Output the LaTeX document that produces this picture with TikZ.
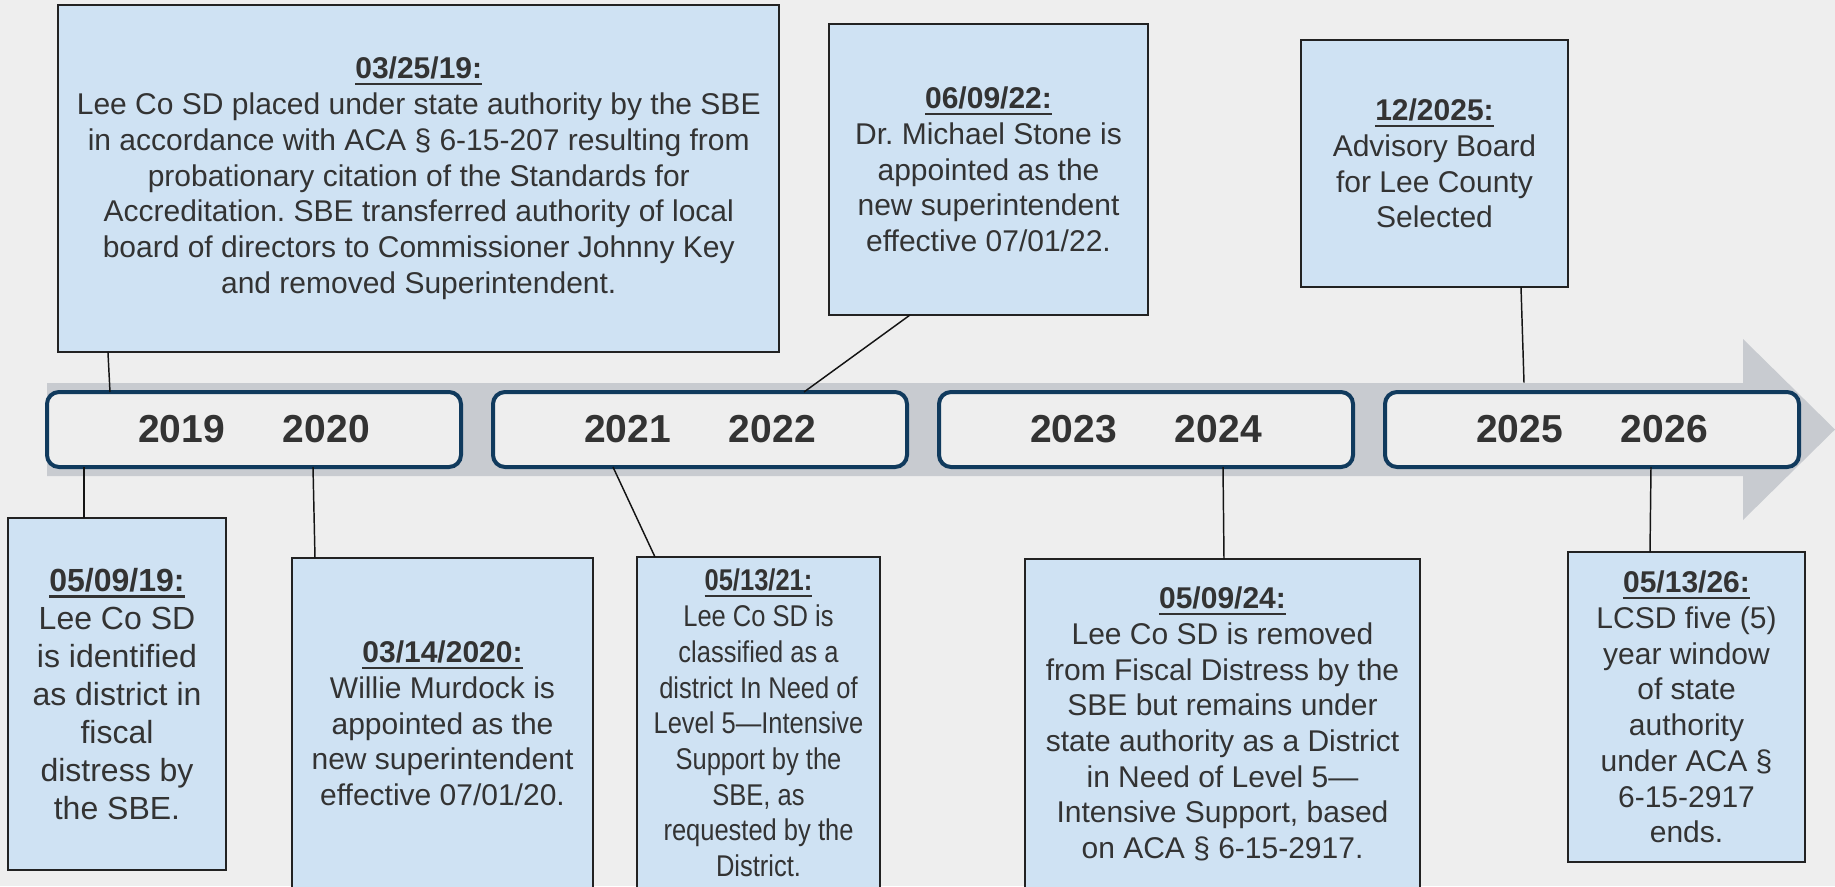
\documentclass[tikz,border=0pt]{standalone}
\usepackage{fontspec}
\setmainfont{Liberation Sans}
\newfontfamily\narrowsans[FakeStretch=0.85]{Liberation Sans}
\usepackage{tikz}
\usetikzlibrary{positioning}
\frenchspacing

\definecolor{pagegray}{RGB}{238,238,238}
\definecolor{bandgray}{RGB}{200,203,208}
\definecolor{notefill}{RGB}{207,226,243}
\definecolor{yearnavy}{RGB}{16,58,93}
\definecolor{inkgray}{RGB}{51,51,51}

% bold date with a heavy underline
\newsavebox{\datebox}
\newcommand{\datehead}[1]{\sbox{\datebox}{\bfseries #1}\rlap{\rule[-5pt]{\wd\datebox}{2pt}}\usebox{\datebox}}

\begin{document}
\begin{tikzpicture}[x=0.75pt,y=0.75pt,yscale=-1,xscale=1,
    note/.style={draw={rgb, 255:red, 34; green, 34; blue, 34},line width=1.5pt,fill=notefill,
        text=inkgray,align=center,inner sep=0pt,outer sep=0pt,
        font=\fontsize{22.5}{26.8}\selectfont},
    yearbox/.style={draw=yearnavy,line width=3pt,rounded corners=9pt,fill=pagegray,
        minimum width=310.5pt,minimum height=56.25pt,inner sep=0pt,outer sep=0pt,
        text=inkgray,font=\fontsize{29.25}{35}\selectfont\bfseries},
    leader/.style={draw={rgb, 255:red, 20; green, 20; blue, 20},line width=1.1pt}]
        \clip (0,0) rectangle (1835,886);
        \fill[pagegray] (0,0) rectangle (1835,886);

        %Shape: Polygon (timeline arrow)
        \fill[bandgray] (47,383) -- (1743,383) -- (1743,339) -- (1835,429.5) -- (1743,520) -- (1743,476) -- (47,476) -- cycle ;

        % Year boxes
        \node[yearbox] (yr1) at (254,429.5) {2019\hspace{43.5pt}2020};
        \node[yearbox,right=24pt of yr1] (yr2) {2021\hspace{43.5pt}2022};
        \node[yearbox,right=24pt of yr2] (yr3) {2023\hspace{43.5pt}2024};
        \node[yearbox,right=24pt of yr3] (yr4) {2025\hspace{43.5pt}2026};

        % Text Node
        \node[note,minimum width=540.4pt,minimum height=260.6pt] (mar19) at (418.75,178.25) {\datehead{03/25/19:}\\
            Lee Co SD placed under state authority by the SBE\\
            in accordance with ACA § 6-15-207 resulting from\\
            probationary citation of the Standards for\\
            Accreditation. SBE transferred authority of local\\
            board of directors to Commissioner Johnny Key\\
            and removed Superintendent.};
        % Text Node
        \node[note,minimum width=239.25pt,minimum height=218.25pt] (jun22) at (988.5,169.5) {\datehead{06/09/22:}\\
            Dr. Michael Stone is\\ appointed as the\\ new superintendent\\ effective 07/01/22.};
        % Text Node
        \node[note,minimum width=200.25pt,minimum height=185.25pt] (dec25) at (1434.5,163.5) {\datehead{12/2025:}\\
            Advisory Board\\ for Lee County\\ Selected};
        % Text Node
        \node[note,minimum width=163.5pt,minimum height=264pt,font=\fontsize{24}{28.5}\selectfont] (may19) at (117,694) {\datehead{05/09/19:}\\
            Lee Co SD\\ is identified\\ as district in\\ fiscal\\ distress by\\ the SBE.};
        % Text Node
        \node[note,minimum width=225.75pt,minimum height=248.25pt] (mar20) at (442.5,723.5) {\datehead{03/14/2020:}\\
            Willie Murdock is\\ appointed as the\\ new superintendent\\ effective 07/01/20.};
        % Text Node
        \node[note,minimum width=182.25pt,minimum height=249pt,font=\narrowsans\fontsize{22.5}{26.8}\selectfont] (may21) at (758.5,723) {\datehead{05/13/21:}\\
            Lee Co SD is\\ classified as a\\ district In Need of\\ Level 5—Intensive\\ Support by the\\ SBE, as\\ requested by the\\ District.};
        % Text Node
        \node[note,minimum width=296.25pt,minimum height=247.5pt] (may24) at (1222.5,724) {\datehead{05/09/24:}\\
            Lee Co SD is removed\\ from Fiscal Distress by the\\ SBE but remains under\\ state authority as a District\\ in Need of Level 5—\\ Intensive Support, based\\ on ACA § 6-15-2917.};
        % Text Node
        \node[note,minimum width=177.75pt,minimum height=232.5pt] (may26) at (1686.5,707) {\datehead{05/13/26:}\\
            LCSD five (5)\\ year window\\ of state\\ authority\\ under ACA §\\ 6-15-2917\\ ends.};

        %Straight Lines
        \draw[leader] ([xshift=37.1pt]mar19.south west) -- ([xshift=47.25pt]yr1.north west) ;
        \draw[leader] ([xshift=27.75pt]yr1.south west) -- ([xshift=57pt]may19.north west) ;
        \draw[leader] ([xshift=199.5pt]yr1.south west) -- ([xshift=17.25pt]mar20.north west) ;
        \draw[leader] ([xshift=60.75pt]jun22.south west) -- ([xshift=233.25pt]yr2.north west) ;
        \draw[leader] ([xshift=90pt]yr2.south west) -- ([xshift=13.5pt]may21.north west) ;
        \draw[leader] ([xshift=165pt]dec25.south west) -- ([xshift=104.25pt,yshift=-7pt]yr4.north west) ;
        \draw[leader] ([xshift=213pt]yr3.south west) -- ([xshift=149.25pt]may24.north west) ;
        \draw[leader] ([xshift=199.5pt]yr4.south west) -- ([xshift=61.5pt]may26.north west) ;

    \end{tikzpicture}
\end{document}
